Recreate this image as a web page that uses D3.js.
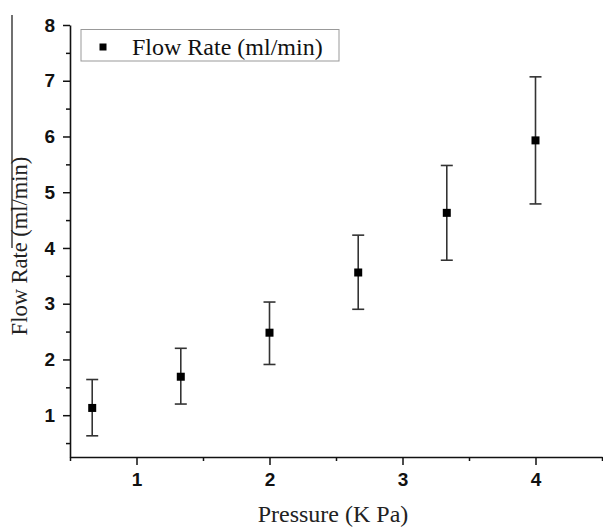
<!DOCTYPE html>
<html>
<head>
<meta charset="utf-8">
<script src="https://cdn.jsdelivr.net/npm/d3@7"></script>
<style>
  body { margin: 0; background: #fff; }
  svg { display: block; }
</style>
</head>
<body>
<div id="chart"></div>
<script>
/////// DATA

const pressure = [0.667, 1.333, 2.0, 2.667, 3.333, 4.0];
const flowRate = [1.13, 1.69, 2.48, 3.56, 4.63, 5.93];
const errLow   = [0.63, 1.20, 1.91, 2.90, 3.78, 4.79];
const errHigh  = [1.64, 2.20, 3.03, 4.23, 5.48, 7.07];
const xTicks = [1, 2, 3, 4];
const yTicks = [1, 2, 3, 4, 5, 6, 7, 8];
const xMinor = [0.5, 1.5, 2.5, 3.5, 4.5];
const yMinor = [0.5, 1.5, 2.5, 3.5, 4.5, 5.5, 6.5, 7.5];

const points = pressure.map((p, i) => ({ x: p, y: flowRate[i], lo: errLow[i], hi: errHigh[i] }));

/////// SETUP

const width = 603;
const height = 532;

const svg = d3.select("#chart")
  .append("svg")
  .attr("width", width)
  .attr("height", height);

const x = d3.scaleLinear().domain([0.5, 4.5]).range([70, 602]);
const y = d3.scaleLinear().domain([0.25, 8]).range([457, 25]);

const tickFont = "'Liberation Sans', Arial, sans-serif";
const labelFont = "'Liberation Serif', 'Times New Roman', serif";

// minor ticks first, majors on top
svg.append("g")
  .attr("transform", "translate(0,457)")
  .call(d3.axisBottom(x).tickValues(xMinor).tickSize(4).tickSizeOuter(0).tickFormat(""))
  .call(g => g.select(".domain").remove())
  .selectAll("line").attr("stroke", "#111").attr("stroke-width", 1.5);

svg.append("g")
  .attr("transform", "translate(70,0)")
  .call(d3.axisLeft(y).tickValues(yMinor).tickSize(4).tickSizeOuter(0).tickFormat(""))
  .call(g => g.select(".domain").remove())
  .selectAll("line").attr("stroke", "#111").attr("stroke-width", 1.5);

// x axis
const xAxis = svg.append("g")
  .attr("transform", "translate(0,457)")
  .call(d3.axisBottom(x).tickValues(xTicks).tickSize(8).tickSizeOuter(0).tickPadding(8).tickFormat(d3.format("d")));

// y axis
const yAxis = svg.append("g")
  .attr("transform", "translate(70,0)")
  .call(d3.axisLeft(y).tickValues(yTicks).tickSize(7).tickSizeOuter(0).tickPadding(8).tickFormat(d3.format("d")));

[xAxis, yAxis].forEach(g => {
  g.select(".domain").attr("stroke", "#111").attr("stroke-width", 1.6);
  g.selectAll(".tick line").attr("stroke", "#111").attr("stroke-width", 1.5);
  g.selectAll(".tick text")
    .attr("fill", "#111")
    .style("font-family", tickFont)
    .style("font-weight", "bold")
    .style("font-size", "19px");
});

/////// ERROR BARS + POINTS

const bars = svg.append("g")
  .selectAll("g")
  .data(points)
  .join("g")
  .attr("stroke", "#333")
  .attr("stroke-width", 1.6);

bars.append("line")
  .attr("x1", d => x(d.x)).attr("x2", d => x(d.x))
  .attr("y1", d => y(d.lo)).attr("y2", d => y(d.hi));

bars.append("line")
  .attr("x1", d => x(d.x) - 6).attr("x2", d => x(d.x) + 6)
  .attr("y1", d => y(d.hi)).attr("y2", d => y(d.hi));

bars.append("line")
  .attr("x1", d => x(d.x) - 6).attr("x2", d => x(d.x) + 6)
  .attr("y1", d => y(d.lo)).attr("y2", d => y(d.lo));

svg.append("g")
  .selectAll("rect")
  .data(points)
  .join("rect")
  .attr("x", d => x(d.x) - 4)
  .attr("y", d => y(d.y) - 4)
  .attr("width", 8)
  .attr("height", 8)
  .attr("fill", "#000");

/////// LEGEND

const legend = svg.append("g");
legend.append("rect")
  .attr("x", 81).attr("y", 29.5)
  .attr("width", 258).attr("height", 31.5)
  .attr("fill", "#fff")
  .attr("stroke", "#999")
  .attr("stroke-width", 1);
legend.append("rect")
  .attr("x", 99.5).attr("y", 43.5)
  .attr("width", 7).attr("height", 7)
  .attr("fill", "#000");
legend.append("text")
  .attr("x", 132).attr("y", 54.5)
  .attr("font-family", labelFont)
  .attr("font-size", 24)
  .attr("fill", "#111")
  .text("Flow Rate (ml/min)");

/////// AXIS TITLES

svg.append("text")
  .attr("x", 333).attr("y", 522)
  .attr("text-anchor", "middle")
  .attr("font-family", labelFont)
  .attr("font-size", 24)
  .attr("fill", "#222")
  .text("Pressure (K Pa)");

svg.append("text")
  .attr("transform", "translate(27,246) rotate(-90)")
  .attr("text-anchor", "middle")
  .attr("font-family", labelFont)
  .attr("font-size", 22.5)
  .attr("fill", "#222")
  .text("Flow Rate (ml/min)");

// stray vertical rule at the left edge
svg.append("line")
  .attr("x1", 12).attr("x2", 12)
  .attr("y1", 15).attr("y2", 248)
  .attr("stroke", "#111")
  .attr("stroke-width", 1.2);
</script>
</body>
</html>
